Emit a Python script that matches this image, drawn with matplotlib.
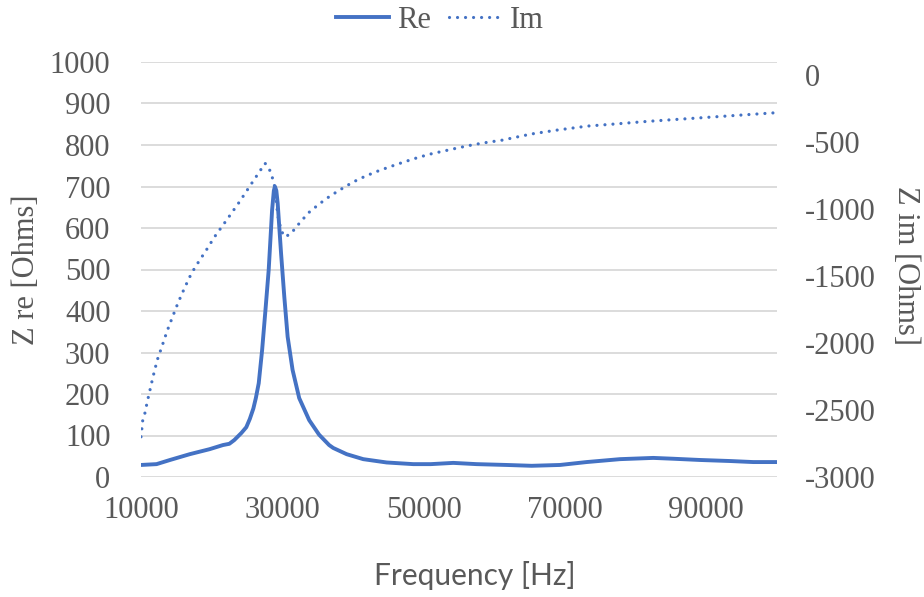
import matplotlib
matplotlib.use('Agg')
import matplotlib.pyplot as plt
from matplotlib.lines import Line2D

plt.rcParams['axes.unicode_minus'] = False

# real part of impedance
re_freq = [10000, 12200, 14100, 16900, 19700, 21600, 22500, 23200, 24200, 24900,
           25400, 25900, 26250, 26660, 27140, 27610, 28070, 28550, 28800, 28950,
           29150, 29340, 29820, 30280, 30750, 31450, 32390, 33800, 35200, 36620,
           37200, 39100, 41450, 44760, 48530, 51000, 54190, 57490, 61740, 65280,
           69290, 73060, 77780, 82490, 85320, 89110, 93350, 96640, 100000]
re_vals = [29, 31, 41, 55, 67, 77, 80, 89, 106, 120,
           140, 165, 190, 226, 306, 402, 499, 643, 690, 700,
           690, 660, 539, 434, 338, 258, 190, 137, 102, 77,
           70, 55, 43, 35, 31, 31, 34, 31, 29, 27,
           29, 36, 43, 46, 44, 41, 38.5, 36, 36]

# imaginary part of impedance
im_freq = [10000, 10240, 10560, 10890, 11270, 11730, 12300, 13000, 13700, 14470,
           15250, 16200, 17140, 18070, 19250, 20420, 22300, 23940, 25820, 26760,
           27560, 28170, 28550, 28870, 29110, 29340, 29820, 30280, 31130, 32400,
           33710, 35210, 36760, 38410, 40000, 41790, 43660, 45540, 47330, 49300,
           51170, 53060, 54930, 57040, 59060, 61030, 63000, 65260, 69020, 73240,
           77470, 81700, 85920, 90150, 94370, 98600, 100000]
im_vals = [-2700, -2580, -2522, -2438, -2351, -2246, -2127, -2020, -1910, -1804,
           -1699, -1585, -1480, -1401, -1306, -1207, -1069, -946, -796, -722,
           -659, -704, -759, -821, -920, -1045, -1157, -1207, -1189, -1107,
           -1028, -963, -903, -849, -799, -754, -714, -679, -647, -614,
           -587, -565, -543, -520, -502, -487, -465, -440, -410, -381,
           -364, -346, -331, -316, -301, -286, -281]

x_ticks = [10000, 30000, 50000, 70000, 90000]
re_ticks = list(range(0, 1001, 100))
im_ticks = list(range(-3000, 1, 500))

blue = '#4472C4'
grey = '#595959'
serif = 'Liberation Serif'

fig = plt.figure(figsize=(9.24, 5.97), dpi=100)
ax = fig.add_axes([141 / 924, 1 - 477 / 597, 636 / 924, 415 / 597])
ax2 = ax.twinx()

ax.plot(re_freq, re_vals, color=blue, linewidth=2.8, solid_capstyle='round',
        solid_joinstyle='round', zorder=3)
ax2.plot(im_freq, im_vals, color=blue, linewidth=2.3,
         linestyle=(0, (0.01, 2.5)), dash_capstyle='round')

ax.set_xlim(10000, 100000)
ax.set_ylim(0, 1000)
ax2.set_ylim(-3000, 97)

ax.set_xticks(x_ticks)
ax.set_yticks(re_ticks)
ax2.set_yticks(im_ticks)

ax.grid(True, axis='y', color='#D9D9D9', linewidth=1.3)
ax.set_axisbelow(True)
for a in (ax, ax2):
    for s in a.spines.values():
        s.set_visible(False)
ax.tick_params(axis='both', length=0, labelsize=22, labelcolor=grey)
ax.tick_params(axis='y', pad=22)
ax.tick_params(axis='x', pad=14)
ax2.tick_params(axis='y', length=0, labelsize=22, labelcolor=grey, pad=20)
for lab in ax.get_xticklabels() + ax.get_yticklabels() + ax2.get_yticklabels():
    lab.set_fontfamily(serif)

fig.text(27 / 924, 1 - 270 / 597, 'Z re [Ohms]', rotation=90, ha='center', va='center',
         fontsize=22, color=grey, family=serif)
fig.text(905 / 924, 1 - 266 / 597, 'Z im [Ohms]', rotation=270, ha='center', va='center',
         fontsize=22, color=grey, family=serif)
fig.text(475 / 924, 1 - 575 / 597, 'Frequency [Hz]', ha='center', va='center',
         fontsize=21.5, color=grey, family='Lato')

handles = [Line2D([], [], color=blue, linewidth=2.8),
           Line2D([], [], color=blue, linewidth=2.3, linestyle=(0, (0.01, 2.5)),
                  dash_capstyle='round')]
leg = fig.legend(handles, ['Re', 'Im'], loc='center', bbox_to_anchor=(440 / 924, 1 - 20 / 597),
                 ncol=2, frameon=False, handlelength=1.75, handletextpad=0.25,
                 columnspacing=0.6, prop={'family': serif, 'size': 22})
for t in leg.get_texts():
    t.set_color(grey)

fig.savefig('out.png', dpi=100)
